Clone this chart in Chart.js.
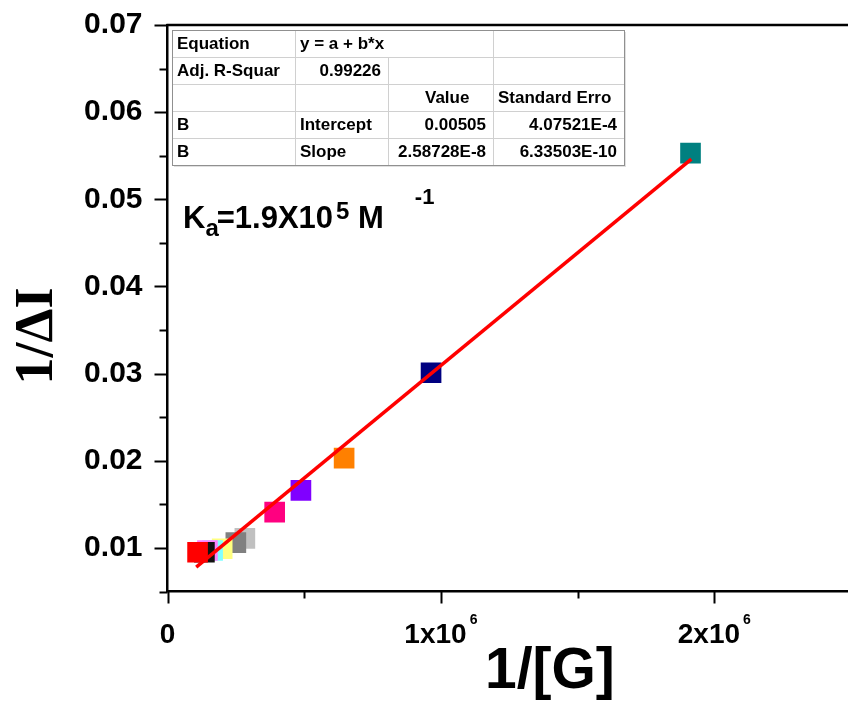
<!DOCTYPE html>
<html>
<head>
<meta charset="utf-8">
<script src="https://cdn.jsdelivr.net/npm/chart.js@4.4.1/dist/chart.umd.min.js"></script>
<style>
  html, body { margin: 0; padding: 0; background: #fff; overflow: hidden; }
  canvas { display: block; }
</style>
</head>
<body>
<canvas id="bhChart" width="860" height="702"></canvas>
<script>
// 1/[G] vs 1/ΔI, one square per titration point (drawn big x first so the red one ends on top)
const invG   = [1913000, 964000, 646000, 488000, 392000, 283000, 250000, 200000, 165000, 146000, 135000, 110000];
const invDI  = [0.0553, 0.0301, 0.0203, 0.0166, 0.0141, 0.0111, 0.0106, 0.0099, 0.0097, 0.0097, 0.0095, 0.0095];
const pointColors = ['#008080', '#000080', '#ff8000', '#8000ff', '#ff0080', '#c0c0c0',
                     '#808080', '#ffff80', '#80ffff', '#ff80ff', '#111111', '#ff0000'];

// linear fit line ends
const fitX = [105000, 1916000];
const fitY = [0.0078, 0.0546];

const yTicks = [0.01, 0.02, 0.03, 0.04, 0.05, 0.06, 0.07];
const xTickVals = [0, 1000000, 2000000];
const xTickLabels = [['0', ''], ['1x10', '6'], ['2x10', '6']];

// fit report table, rows of cells
const tableRows = [
  ['Equation', 'y = a + b*x', '', ''],
  ['Adj. R-Squar', '0.99226', '', ''],
  ['', '', 'Value', 'Standard Erro'],
  ['B', 'Intercept', '0.00505', '4.07521E-4'],
  ['B', 'Slope', '2.58728E-8', '6.33503E-10']
];

const SANS = '"Liberation Sans", Arial, sans-serif';

const decorPlugin = {
  id: 'decor',
  afterDraw(chart) {
    const ctx = chart.ctx;
    const xs = chart.scales.x, ys = chart.scales.y;
    const area = chart.chartArea;
    ctx.save();

    // top frame line
    ctx.strokeStyle = '#000';
    ctx.lineWidth = 2.5;
    ctx.beginPath();
    ctx.moveTo(area.left - 1, area.top);
    ctx.lineTo(area.right, area.top);
    ctx.stroke();

    // tick marks
    ctx.lineWidth = 2;
    for (let v = 0.005; v <= 0.0701; v += 0.005) {
      const py = Math.round(ys.getPixelForValue(v)) + 0.5;
      const major = Math.abs(v * 100 - Math.round(v * 100)) < 1e-6;
      ctx.beginPath();
      ctx.moveTo(area.left, py);
      ctx.lineTo(area.left - (major ? 13 : 8), py);
      ctx.stroke();
    }
    for (let v = 0; v <= 2500000; v += 500000) {
      const px = Math.round(xs.getPixelForValue(v)) + 0.5;
      const major = v % 1000000 === 0;
      ctx.beginPath();
      ctx.moveTo(px, area.bottom);
      ctx.lineTo(px, area.bottom + (major ? 12 : 7));
      ctx.stroke();
    }

    // x tick labels with superscript
    ctx.fillStyle = '#000';
    ctx.textBaseline = 'alphabetic';
    ctx.textAlign = 'left';
    xTickVals.forEach((v, i) => {
      const [base, sup] = xTickLabels[i];
      ctx.font = 'bold 28px ' + SANS;
      const wb = ctx.measureText(base).width;
      ctx.font = 'bold 14px ' + SANS;
      const ws = sup ? ctx.measureText(sup).width + 3 : 0;
      const left = xs.getPixelForValue(v) - (wb + ws) / 2;
      ctx.font = 'bold 28px ' + SANS;
      ctx.fillText(base, left, 643);
      if (sup) {
        ctx.font = 'bold 14px ' + SANS;
        ctx.fillText(sup, left + wb + 3, 624);
      }
    });

    // axis titles
    ctx.font = 'bold 57px ' + SANS;
    ctx.fillText('1/[G]', 485, 688);

    ctx.save();
    ctx.translate(38, 336);
    ctx.rotate(-Math.PI / 2);
    ctx.textAlign = 'center';
    ctx.textBaseline = 'middle';
    ctx.font = 'bold 54px "Liberation Serif", "Times New Roman", serif';
    ctx.fillText('1/ΔI', 0, 0);
    ctx.restore();

    // fit table
    const colX = [172, 295, 388, 493, 624];
    const rowY = [30, 57, 84, 111, 138, 165];
    ctx.fillStyle = '#e0e0e0';
    ctx.fillRect(colX[0] + 2, rowY[0] + 2, colX[4] - colX[0], rowY[5] - rowY[0]);
    ctx.fillStyle = '#fff';
    ctx.fillRect(colX[0], rowY[0], colX[4] - colX[0], rowY[5] - rowY[0]);
    ctx.strokeStyle = '#d0d0d0';
    ctx.lineWidth = 1;
    for (let r = 1; r < 5; r++) {
      ctx.beginPath();
      ctx.moveTo(colX[0], rowY[r] + 0.5);
      ctx.lineTo(colX[4], rowY[r] + 0.5);
      ctx.stroke();
    }
    for (let c = 1; c < 4; c++) {
      ctx.beginPath();
      ctx.moveTo(colX[c] + 0.5, c === 2 ? rowY[1] : rowY[0]);
      ctx.lineTo(colX[c] + 0.5, rowY[5]);
      ctx.stroke();
    }
    ctx.strokeStyle = '#909090';
    ctx.strokeRect(colX[0] + 0.5, rowY[0] + 0.5, colX[4] - colX[0], rowY[5] - rowY[0]);

    ctx.fillStyle = '#000';
    ctx.font = 'bold 17px ' + SANS;
    tableRows.forEach((row, r) => {
      const base = rowY[r] + 19;
      row.forEach((txt, c) => {
        if (!txt) return;
        if (r === 2 && c === 2) { ctx.textAlign = 'left'; ctx.fillText(txt, 425, base); return; }
        const rightAligned = (r === 1 && c === 1) || (r >= 3 && c >= 2);
        if (rightAligned) {
          ctx.textAlign = 'right';
          ctx.fillText(txt, colX[c + 1] - 7, base);
        } else {
          ctx.textAlign = 'left';
          ctx.fillText(txt, colX[c] + 5, base);
        }
      });
    });

    // binding constant
    ctx.textAlign = 'left';
    let x = 183;
    ctx.font = 'bold 31px ' + SANS;
    ctx.fillText('K', x, 228); x += ctx.measureText('K').width;
    ctx.font = 'bold 24px ' + SANS;
    ctx.fillText('a', x, 236); x += ctx.measureText('a').width - 2;
    ctx.font = 'bold 31px ' + SANS;
    ctx.fillText('=1.9X10', x, 228); x += ctx.measureText('=1.9X10').width + 3;
    ctx.font = 'bold 24px ' + SANS;
    ctx.fillText('5', x, 219); x += ctx.measureText('5').width;
    ctx.font = 'bold 31px ' + SANS;
    ctx.fillText(' M', x, 228); x += ctx.measureText(' M').width + 31;
    ctx.font = 'bold 22px ' + SANS;
    ctx.fillText('-1', x, 204);

    ctx.restore();
  }
};

const pts = invG.map((g, i) => ({ x: g, y: invDI[i] }));
const fitPts = fitX.map((g, i) => ({ x: g, y: fitY[i] }));

new Chart(document.getElementById('bhChart'), {
  type: 'scatter',
  data: {
    datasets: [
      {
        label: 'Linear Fit',
        data: fitPts,
        showLine: true,
        borderColor: '#ff0000',
        borderWidth: 3.5,
        pointRadius: 0
      },
      {
        label: '1/ΔI',
        data: pts,
        pointStyle: 'rect',
        pointRadius: 14.6,
        pointBackgroundColor: pointColors,
        pointBorderWidth: 0
      }
    ]
  },
  options: {
    responsive: false,
    devicePixelRatio: 1,
    animation: false,
    layout: { autoPadding: false, padding: { top: 25, right: 9, left: 0, bottom: 0 } },
    plugins: { legend: { display: false }, tooltip: { enabled: false } },
    scales: {
      x: {
        type: 'linear',
        min: 0,
        max: 2500000,
        grid: { display: false, drawTicks: false },
        border: { display: true, color: '#000', width: 2.5 },
        ticks: { display: false },
        afterFit(scale) { scale.height = 110.5; }
      },
      y: {
        type: 'linear',
        min: 0.005,
        max: 0.07,
        // tick marks are drawn by the plugin; tickLength only sets the label gap
        grid: { display: false, drawTicks: true, tickLength: 25 },
        border: { display: true, color: '#000', width: 2.5 },
        ticks: {
          stepSize: 0.005,
          padding: 0,
          color: '#000',
          font: { family: SANS, size: 30, weight: 'bold' },
          callback: v => yTicks.some(t => Math.abs(t - v) < 1e-6) ? v.toFixed(2) : ''
        },
        afterFit(scale) { scale.width = 167.5; }
      }
    }
  },
  plugins: [decorPlugin]
});
</script>
</body>
</html>
